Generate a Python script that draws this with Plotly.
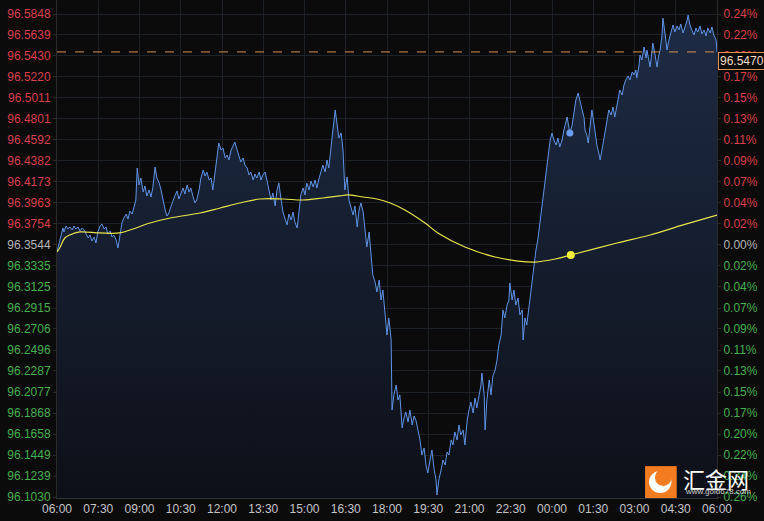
import pandas as pd
import plotly.graph_objects as go

# ---------------- data ----------------
base_time = pd.Timestamp("2024-01-01 06:00")

# blue price line: minutes after 06:00 and price
price_minutes = [
    0, 4, 9, 13, 15, 20, 24, 28, 33, 37,
    41, 46, 50, 55, 59, 63, 68, 72, 76, 81,
    85, 89, 94, 98, 103, 107, 111, 116, 120, 124,
    129, 133, 137, 142, 146, 151, 155, 159, 164, 168,
    172, 175, 179, 183, 188, 192, 196, 201, 205, 209,
    214, 218, 223, 227, 231, 236, 240, 244, 249, 253,
    257, 262, 266, 271, 275, 279, 284, 288, 292, 297,
    301, 305, 310, 314, 319, 323, 327, 332, 336, 340,
    345, 349, 353, 358, 362, 367, 371, 375, 380, 384,
    388, 393, 397, 401, 406, 410, 415, 419, 423, 428,
    432, 436, 441, 445, 449, 454, 458, 463, 467, 471,
    476, 480, 484, 489, 493, 497, 502, 506, 511, 515,
    519, 524, 528, 532, 537, 541, 545, 550, 554, 559,
    563, 567, 572, 576, 580, 585, 589, 593, 598, 602,
    607, 611, 615, 620, 624, 628, 633, 637, 641, 646,
    650, 655, 659, 663, 668, 672, 676, 681, 685, 689,
    694, 698, 703, 707, 711, 716, 720, 724, 729, 731,
    735, 740, 744, 748, 753, 757, 761, 766, 770, 775,
    779, 783, 788, 792, 796, 801, 805, 809, 814, 818,
    823, 827, 829, 833, 838, 842, 847, 851, 855, 860,
    864, 868, 873, 877, 881, 886, 890, 895, 899, 903,
    908, 912, 916, 921, 925, 927, 932, 934, 938, 943,
    947, 951, 956, 960, 964, 969, 973, 977, 982, 986,
    988, 993, 997, 1001, 1006, 1010, 1015, 1017, 1021, 1025,
    1028, 1032, 1036, 1041, 1045, 1049, 1054, 1058, 1063, 1067,
    1071, 1076, 1080, 1084, 1089, 1093, 1097, 1102, 1106, 1111,
    1113, 1117, 1119, 1124, 1128, 1132, 1137, 1141, 1145, 1150,
    1152, 1156, 1159, 1163, 1167, 1172, 1174, 1178, 1183, 1185,
    1189, 1193, 1196, 1200, 1204, 1209, 1213, 1217, 1222, 1226,
    1228, 1233, 1237, 1241, 1246, 1250, 1255, 1259, 1263, 1265,
    1270, 1272, 1276, 1281, 1285, 1287, 1292, 1294, 1298, 1300,
    1305, 1309, 1313, 1316, 1320, 1322, 1327, 1331, 1335, 1340,
    1344, 1348, 1353, 1357, 1361, 1366, 1370, 1375, 1377, 1381,
    1385, 1390, 1394, 1398, 1403, 1407, 1412, 1416, 1420, 1425,
    1429, 1433, 1438, 1440,
]
price_values = [
    96.3474, 96.3544, 96.3634, 96.3714, 96.3674, 96.3734, 96.3704, 96.3724, 96.3694, 96.3734,
    96.3704, 96.3724, 96.3684, 96.3714, 96.3694, 96.3664, 96.3614, 96.3644, 96.3584, 96.3624,
    96.3564, 96.3674, 96.3734, 96.3753, 96.3704, 96.3724, 96.3654, 96.3684, 96.3624, 96.3644,
    96.3594, 96.3514, 96.3634, 96.3773, 96.3813, 96.3853, 96.3803, 96.3883, 96.3853, 96.3913,
    96.3993, 96.4312, 96.4143, 96.4212, 96.4073, 96.4133, 96.4033, 96.4093, 96.4023, 96.4113,
    96.4322, 96.4212, 96.4162, 96.4093, 96.3993, 96.3893, 96.3833, 96.3863, 96.3933, 96.3993,
    96.4033, 96.4083, 96.4003, 96.4063, 96.4113, 96.4053, 96.4143, 96.4073, 96.4113, 96.4023,
    96.3963, 96.3993, 96.4093, 96.4212, 96.4292, 96.4232, 96.4272, 96.4192, 96.4212, 96.4093,
    96.4292, 96.4442, 96.4561, 96.4492, 96.4512, 96.4412, 96.4442, 96.4392, 96.4492, 96.4532,
    96.4571, 96.4492, 96.4442, 96.4372, 96.4412, 96.4342, 96.4312, 96.4242, 96.4272, 96.4192,
    96.4252, 96.4212, 96.4272, 96.4192, 96.4242, 96.4272, 96.4192, 96.4093, 96.3993, 96.4063,
    96.3933, 96.4093, 96.4162, 96.3993, 96.3873, 96.3813, 96.3744, 96.3853, 96.3793, 96.3873,
    96.3773, 96.3714, 96.3893, 96.4043, 96.4113, 96.4043, 96.4162, 96.4093, 96.4182, 96.4123,
    96.4192, 96.4113, 96.4212, 96.4272, 96.4342, 96.4272, 96.4392, 96.4312, 96.4492, 96.4691,
    96.4891, 96.4741, 96.4611, 96.4661, 96.4492, 96.4093, 96.4222, 96.3993, 96.3913, 96.3843,
    96.3933, 96.3724, 96.3893, 96.3963, 96.3873, 96.3714, 96.3524, 96.3674, 96.3444, 96.3245,
    96.3175, 96.3075, 96.3195, 96.2995, 96.3095, 96.2796, 96.2646, 96.2816, 96.2596, 96.1898,
    96.2048, 96.2147, 96.1998, 96.2048, 96.1719, 96.1818, 96.1878, 96.1778, 96.1898, 96.1748,
    96.1838, 96.1798, 96.1699, 96.1599, 96.1449, 96.1519, 96.1349, 96.1270, 96.1399, 96.1499,
    96.1300, 96.1200, 96.1050, 96.1200, 96.1300, 96.1399, 96.1349, 96.1479, 96.1449, 96.1599,
    96.1549, 96.1679, 96.1599, 96.1748, 96.1649, 96.1699, 96.1549, 96.1798, 96.1898, 96.1978,
    96.1868, 96.2018, 96.1918, 96.2048, 96.2147, 96.2267, 96.2048, 96.1699, 96.1998, 96.2197,
    96.2048, 96.2237, 96.2297, 96.2397, 96.2546, 96.2646, 96.2896, 96.2816, 96.2945, 96.2995,
    96.3165, 96.2995, 96.3095, 96.2945, 96.3015, 96.2846, 96.2896, 96.2596, 96.2816, 96.2746,
    96.2866, 96.2995, 96.3125, 96.3344, 96.3494, 96.3594, 96.3773, 96.3923, 96.4143, 96.4292,
    96.4392, 96.4591, 96.4661, 96.4591, 96.4542, 96.4611, 96.4522, 96.4591, 96.4691, 96.4771,
    96.4821, 96.4711, 96.4661, 96.4741, 96.4891, 96.4990, 96.5060, 96.4990, 96.4911, 96.4811,
    96.4691, 96.4641, 96.4561, 96.4741, 96.4891, 96.4741, 96.4661, 96.4542, 96.4442, 96.4392,
    96.4492, 96.4611, 96.4661, 96.4791, 96.4891, 96.4841, 96.4921, 96.4821, 96.4941, 96.5040,
    96.5090, 96.5040, 96.5140, 96.5190, 96.5230, 96.5190, 96.5270, 96.5240, 96.5290, 96.5210,
    96.5340, 96.5439, 96.5389, 96.5519, 96.5409, 96.5489, 96.5369, 96.5320, 96.5469, 96.5559,
    96.5439, 96.5320, 96.5439, 96.5489, 96.5639, 96.5808, 96.5639, 96.5489, 96.5589, 96.5689,
    96.5739, 96.5669, 96.5729, 96.5689, 96.5748, 96.5659, 96.5709, 96.5788, 96.5838, 96.5739,
    96.5689, 96.5639, 96.5709, 96.5669, 96.5729, 96.5649, 96.5689, 96.5629, 96.5709, 96.5659,
    96.5719, 96.5639, 96.5589, 96.5470,
]

# yellow moving-average line
ma_minutes = [0, 7, 17, 28, 50, 94, 137, 166, 203, 247, 312, 356, 399, 443, 493,
              537, 580, 617, 633, 668, 698, 727, 759, 803, 831, 890, 956, 1006,
              1043, 1087, 1121, 1222, 1294, 1366, 1440]
ma_values = [96.3474, 96.3524, 96.3614, 96.3644, 96.3674, 96.3664, 96.3664, 96.3704,
             96.3763, 96.3813, 96.3863, 96.3913, 96.3963, 96.4003, 96.4003, 96.3993,
             96.4013, 96.4033, 96.4043, 96.4023, 96.4003, 96.3963, 96.3893, 96.3763,
             96.3664, 96.3524, 96.3424, 96.3384, 96.3374, 96.3404, 96.3444, 96.3564,
             96.3644, 96.3744, 96.3843]
ma_marker_index = 30
price_marker_index = 262

# axis ticks
price_ticks = [96.5848, 96.5639, 96.5430, 96.5220, 96.5011, 96.4801, 96.4592, 96.4382,
               96.4173, 96.3963, 96.3754, 96.3544, 96.3335, 96.3125, 96.2915, 96.2706,
               96.2496, 96.2287, 96.2077, 96.1868, 96.1658, 96.1449, 96.1239, 96.1030]
pct_labels = ["0.24%", "0.22%", "0.20%", "0.17%", "0.15%", "0.13%", "0.11%", "0.09%",
              "0.07%", "0.04%", "0.02%", "0.00%", "0.02%", "0.04%", "0.07%", "0.09%",
              "0.11%", "0.13%", "0.15%", "0.17%", "0.20%", "0.22%", "0.24%", "0.26%"]
base_price = 96.3544
time_tick_minutes = [0, 90, 180, 270, 360, 450, 540, 630, 720, 810, 900, 990, 1080,
                     1170, 1260, 1350, 1440]
time_tick_labels = ["06:00", "07:30", "09:00", "10:30", "12:00", "13:30", "15:00",
                    "16:30", "18:00", "19:30", "21:00", "22:30", "00:00", "01:30",
                    "03:00", "04:30", "06:00"]
y_range = [96.1020, 96.5988]

# ---------------- figure ----------------
RED, GREEN, GRAY = "#d8404a", "#45b04e", "#b4b4b4"


def tcolor(v):
    if abs(v - base_price) < 1e-6:
        return GRAY
    return RED if v > base_price else GREEN


left_text = [f'<span style="color:{tcolor(v)}">{v:.4f}</span>' for v in price_ticks]
right_text = [f'<span style="color:{tcolor(v)}">{t}</span>' for v, t in zip(price_ticks, pct_labels)]

px_t = [base_time + pd.Timedelta(minutes=m) for m in price_minutes]
ma_t = [base_time + pd.Timedelta(minutes=m) for m in ma_minutes]
tick_t = [base_time + pd.Timedelta(minutes=m) for m in time_tick_minutes]
last_price = price_values[-1]

fig = go.Figure()
fig.add_trace(go.Scatter(
    x=px_t, y=price_values, mode="lines",
    line=dict(color="#5f93e6", width=1),
    fill="tozeroy",
    fillgradient=dict(type="vertical", start=y_range[0], stop=y_range[1],
                      colorscale=[[0, "rgb(13,16,24)"], [1, "rgb(30,44,70)"]]),
    hoverinfo="skip", showlegend=False,
))
fig.add_trace(go.Scatter(
    x=ma_t, y=ma_values, mode="lines", line=dict(color="#e8e44c", width=1.2, shape="spline"),
    hoverinfo="skip", showlegend=False,
))
fig.add_trace(go.Scatter(
    x=[ma_t[ma_marker_index]], y=[ma_values[ma_marker_index]], mode="markers",
    marker=dict(color="#f4ee3a", size=8), showlegend=False, hoverinfo="skip",
))
fig.add_trace(go.Scatter(
    x=[px_t[price_marker_index]], y=[price_values[price_marker_index]], mode="markers",
    marker=dict(color="#6a9cf0", size=7), showlegend=False, hoverinfo="skip",
))
# invisible trace for right axis
fig.add_trace(go.Scatter(
    x=[px_t[-1]], y=[last_price], yaxis="y2", mode="markers",
    marker=dict(opacity=0), showlegend=False, hoverinfo="skip",
))

grid = "#1d2128"
font = dict(family="Liberation Sans, Arial", size=12)

fig.update_layout(
    width=764, height=521,
    margin=dict(l=57, r=47, t=0, b=23),
    paper_bgcolor="#0b0b0b", plot_bgcolor="#0b0b0b",
    font=font,
    xaxis=dict(
        type="date", range=[tick_t[0], tick_t[-1]],
        tickvals=tick_t, ticktext=time_tick_labels,
        tickfont=dict(color="#c4c4c4", size=12, family="Liberation Sans, Arial"),
        showgrid=True, gridcolor=grid, gridwidth=1,
        showline=True, linecolor="#333333", zeroline=False,
        ticks="", fixedrange=True,
    ),
    yaxis=dict(
        range=y_range, tickvals=price_ticks, ticktext=left_text,
        showgrid=True, gridcolor=grid, gridwidth=1,
        showline=True, linecolor="#2a2a2a", zeroline=False,
        ticks="outside", ticklen=3, tickcolor="#2a2a2a",
    ),
    yaxis2=dict(
        range=y_range, tickvals=price_ticks, ticktext=right_text,
        overlaying="y", side="right", showgrid=False,
        showline=True, linecolor="#2a2a2a", zeroline=False,
        ticks="outside", ticklen=3, tickcolor="#2a2a2a",
    ),
    shapes=[
        dict(type="line", xref="paper", x0=0, x1=1, yref="y", y0=last_price, y1=last_price,
             line=dict(color="#d99050", width=1, dash="dash")),
        # logo
        dict(type="rect", xref="paper", yref="paper", x0=0.891, x1=0.939, y0=0.0, y1=0.064,
             fillcolor="#f47c20", line=dict(width=0), layer="above"),
        dict(type="circle", xref="paper", yref="paper", x0=0.897, x1=0.931, y0=0.010, y1=0.054,
             fillcolor="#ffffff", line=dict(width=0), layer="above"),
        dict(type="circle", xref="paper", yref="paper", x0=0.906, x1=0.931, y0=0.024, y1=0.058,
             fillcolor="#f47c20", line=dict(width=0), layer="above"),
    ],
    annotations=[
        dict(xref="paper", x=1, xanchor="left", xshift=1, yref="y", y=last_price, yanchor="top",
             text=f"{last_price:.4f}", showarrow=False,
             font=dict(color="#f2dcc0", size=12, family="Liberation Sans, Arial"),
             bordercolor="#d99050", borderwidth=1, borderpad=1, bgcolor="#0b0b0b"),
        dict(xref="paper", x=0.945, xanchor="left", yref="paper", y=0.040, yanchor="middle",
             text="汇金网", showarrow=False,
             font=dict(color="#ffffff", size=22, family="Noto Sans CJK SC")),
        dict(xref="paper", x=0.948, xanchor="left", yref="paper", y=0.0, yanchor="bottom",
             text="www.gold678.com", showarrow=False,
             font=dict(color="#d0d0d0", size=8, family="Liberation Sans, Arial")),
    ],
)

fig.write_html("out.html")
